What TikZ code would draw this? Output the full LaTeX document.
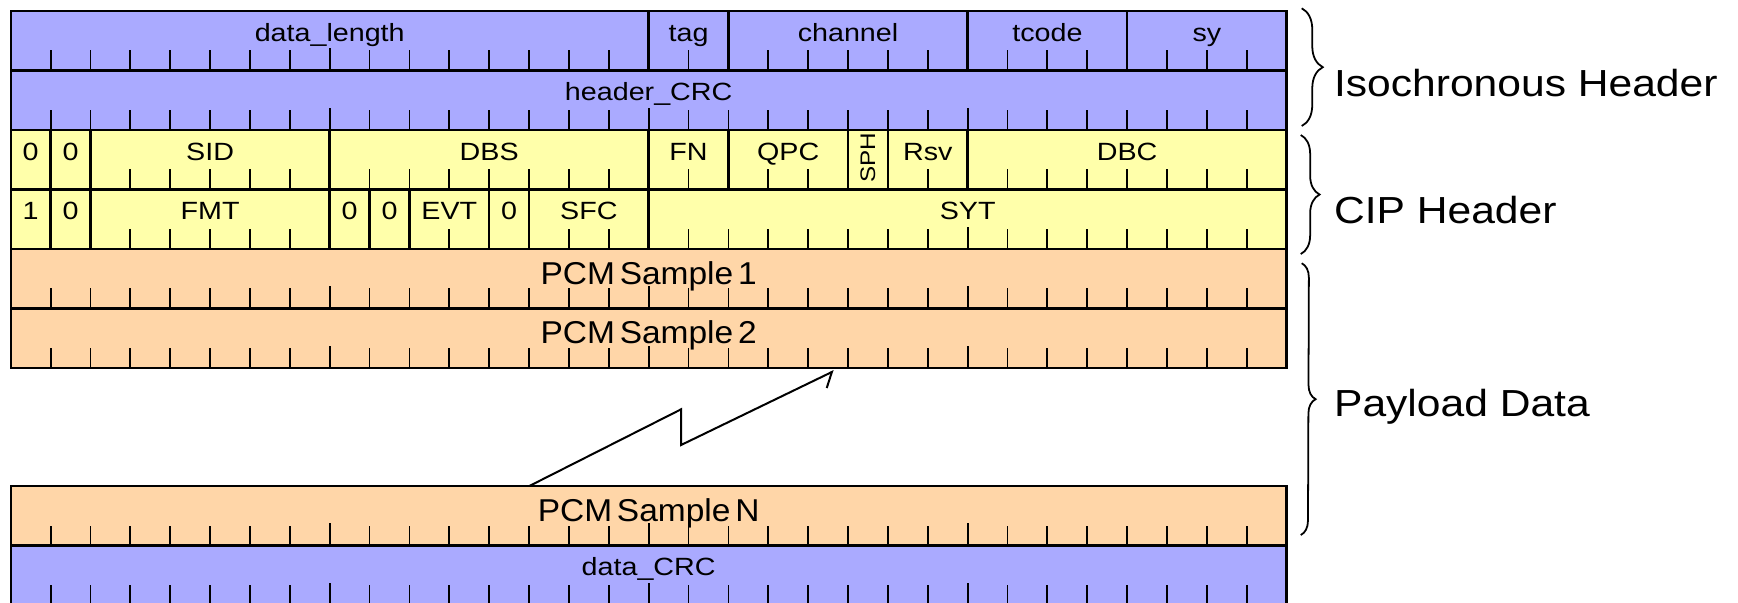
\documentclass[tikz,border=0pt]{standalone}
\usepackage{fontspec}
\setmainfont{Liberation Sans}
\newfontfamily\labfont{Liberation Sans}[FakeStretch=1.15]
\newfontfamily\bigfont{Liberation Sans}[FakeStretch=1.13]
\newfontfamily\pcmfont{Liberation Sans}[FakeStretch=1.06]
\usetikzlibrary{arrows.meta,decorations.pathreplacing,calc}
\definecolor{hdrblue}{RGB}{170,170,255}
\definecolor{cipyel}{RGB}{255,255,170}
\definecolor{pcmorg}{RGB}{255,214,168}
\def\bw{35.97}
\def\xo{9.7}
\def\rh{53.65}
\tikzset{
  cell/.style={draw, line width=2.2pt, inner sep=0pt, outer sep=0pt, minimum height=\rh pt},
  tick/.style={line width=1.6pt},
  lab/.style={font=\labfont\fontsize{22.5}{24}\selectfont, inner sep=0pt, anchor=base},
  pcmlab/.style={font=\pcmfont\fontsize{28.5}{30}\selectfont, inner sep=0pt, anchor=base, yshift=-4.5pt},
  sphlab/.style={font=\labfont\fontsize{19}{21}\selectfont, inner sep=0pt, anchor=center, yshift=2.3pt, rotate=90},
  biglab/.style={font=\bigfont\fontsize{34}{36}\selectfont, inner sep=0pt, anchor=base west},
  brc/.style={line width=1.6pt, decorate},
  zz/.style={line width=1.8pt},
}
% #1 label style, #2 name, #3 row top, #4 start bit, #5 bits, #6 fill, #7 label
\newcommand\fld[7][lab]{%
  \pgfmathsetmacro\myfx{\xo+#4*\bw}%
  \pgfmathsetmacro\myfw{#5*\bw}%
  \node[cell, fill=#6, minimum width=\myfw pt, anchor=north west] (#2) at (\myfx,#3) {};
  \node[#1] (#2-t) at ([yshift=-27.5pt]#2.north) {#7};
  \pgfmathtruncatemacro\mynb{#5-1}%
  \ifnum\mynb>0
    \foreach \i in {1,...,\mynb}{%
      \pgfmathtruncatemacro\mybit{#4+\i}%
      \pgfmathsetmacro\mytk{mod(\mybit,8)==0 ? 20 : 18}%
      \pgfmathsetmacro\myxs{\i*\bw}%
      \draw[tick] ([xshift=\myxs pt]#2.south west) -- ++(0,-\mytk);
    }%
  \fi
}
\begin{document}
\begin{tikzpicture}[x=1pt,y=-1pt]
\clip (0,0) rectangle (1568,544);
\fill[white] (0,0) rectangle (1568,544);
% Isochronous header
\fld{dl}{9.9}{0}{16}{hdrblue}{data\_length}
\fld{tag}{9.9}{16}{2}{hdrblue}{tag}
\fld{chan}{9.9}{18}{6}{hdrblue}{channel}
\fld{tcode}{9.9}{24}{4}{hdrblue}{tcode}
\fld{sy}{9.9}{28}{4}{hdrblue}{sy}
\fld{hcrc}{63.55}{0}{32}{hdrblue}{header\_CRC}
% CIP header
\fld{qa}{117.2}{0}{1}{cipyel}{0}
\fld{qb}{117.2}{1}{1}{cipyel}{0}
\fld{sid}{117.2}{2}{6}{cipyel}{SID}
\fld{dbs}{117.2}{8}{8}{cipyel}{DBS}
\fld{fn}{117.2}{16}{2}{cipyel}{FN}
\fld{qpc}{117.2}{18}{3}{cipyel}{QPC}
\fld[sphlab]{sph}{117.2}{21}{1}{cipyel}{SPH}
\fld{rsv}{117.2}{22}{2}{cipyel}{Rsv}
\fld{dbc}{117.2}{24}{8}{cipyel}{DBC}
\fld{ra}{170.85}{0}{1}{cipyel}{1}
\fld{rb}{170.85}{1}{1}{cipyel}{0}
\fld{fmt}{170.85}{2}{6}{cipyel}{FMT}
\fld{za}{170.85}{8}{1}{cipyel}{0}
\fld{zb}{170.85}{9}{1}{cipyel}{0}
\fld{evt}{170.85}{10}{2}{cipyel}{EVT}
\fld{zc}{170.85}{12}{1}{cipyel}{0}
\fld{sfc}{170.85}{13}{3}{cipyel}{SFC}
\fld{syt}{170.85}{16}{16}{cipyel}{SYT}
% Payload
\fld[pcmlab]{pcma}{224.5}{0}{32}{pcmorg}{{\spaceskip=0.15em\relax PCM Sample 1}}
\fld[pcmlab]{pcmb}{278.15}{0}{32}{pcmorg}{{\spaceskip=0.15em\relax PCM Sample 2}}
\fld[pcmlab]{pcmn}{438.5}{0}{32}{pcmorg}{{\spaceskip=0.15em\relax PCM Sample N}}
\fld{dcrc}{492.15}{0}{32}{hdrblue}{data\_CRC}
% zigzag continuation arrow
\coordinate (zs) at (477.5,438.5);
\coordinate (zp) at (614.4,369.3);
\coordinate (zd) at (614.4,401.5);
\coordinate (ze) at (752.4,334.7);
\draw[zz, -{Straight Barb[harpoon, swap, length=10.5pt, width=22pt]}] (zs) -- (zp) -- (zd) -- (ze);
% braces
\coordinate (isoA) at (1174.4,7.5);
\coordinate (isoB) at (1174.4,113.7);
\coordinate (cipA) at (1173.5,121.8);
\coordinate (cipB) at (1173.5,229.2);
\coordinate (payA) at (1174.4,237.5);
\coordinate (payB) at (1173.5,482.7);
\draw[brc, decoration={brace, amplitude=19pt}] (isoA) -- (isoB);
\draw[brc, decoration={brace, amplitude=17pt}] (cipA) -- (cipB);
\draw[brc, decoration={brace, amplitude=13pt}] (payA) -- (payB);
\node[biglab] (isoL) at (1203.4,87.2) {Isochronous Header};
\node[biglab] (cipL) at (1203.4,201.5) {CIP Header};
\node[biglab] (payL) at (1203.4,376) {Payload Data};
\end{tikzpicture}
\end{document}
